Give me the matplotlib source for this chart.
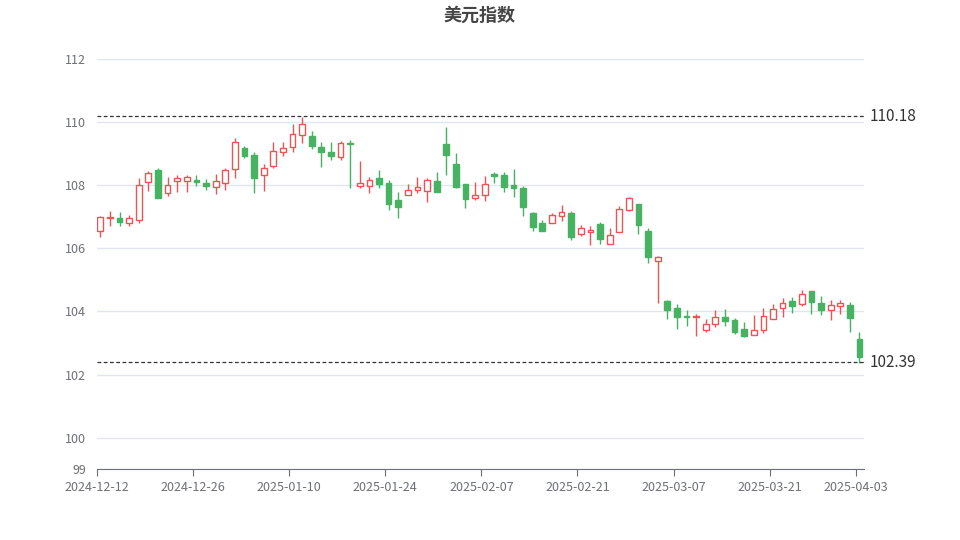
import numpy as np
import pandas as pd
import matplotlib.pyplot as plt

plt.rcParams['font.family'] = ['Noto Sans CJK SC', 'DejaVu Sans']

# 交易日（1月1日无数据）
dates = pd.bdate_range('2024-12-12', '2025-04-03')
dates = dates[dates != pd.Timestamp('2025-01-01')]
labels = [d.strftime('%Y-%m-%d') for d in dates]

opens = [106.56, 106.95, 106.97, 106.80, 106.91, 108.09, 108.48, 107.76, 108.13, 108.13,
         108.17, 108.08, 107.94, 108.07, 108.51, 109.19, 108.96, 108.32, 108.60, 109.05,
         109.21, 109.60, 109.56, 109.22, 109.06, 108.90, 109.34, 107.96, 107.96, 108.22,
         108.08, 107.53, 107.69, 107.86, 107.83, 108.14, 109.29, 108.68, 108.04, 107.59,
         107.69, 108.36, 108.33, 108.01, 107.91, 107.12, 106.79, 106.80, 107.01, 107.12,
         106.45, 106.52, 106.76, 106.15, 106.52, 107.22, 107.39, 106.56, 105.61, 104.32,
         104.11, 103.85, 103.81, 103.42, 103.60, 103.82, 103.72, 103.45, 103.26, 103.42,
         103.76, 104.10, 104.32, 104.24, 104.65, 104.27, 104.05, 104.17, 104.21, 103.14]
closes = [107.00, 106.98, 106.83, 106.95, 108.00, 108.39, 107.58, 108.02, 108.24, 108.25,
          108.10, 107.96, 108.13, 108.48, 109.38, 108.92, 108.22, 108.54, 109.08, 109.17,
          109.63, 109.93, 109.25, 109.06, 108.92, 109.33, 109.30, 108.06, 108.16, 108.03,
          107.41, 107.32, 107.85, 107.94, 108.16, 107.78, 108.96, 107.93, 107.55, 107.69,
          108.03, 108.30, 107.94, 107.91, 107.30, 106.68, 106.55, 107.04, 107.16, 106.35,
          106.63, 106.59, 106.28, 106.41, 107.23, 107.59, 106.73, 105.72, 105.73, 104.05,
          103.81, 103.81, 103.84, 103.60, 103.82, 103.69, 103.35, 103.23, 103.42, 103.85,
          104.08, 104.26, 104.16, 104.54, 104.31, 104.03, 104.21, 104.26, 103.78, 102.56]
highs = [107.03, 107.17, 107.16, 107.05, 108.24, 108.46, 108.55, 108.26, 108.31, 108.31,
         108.31, 108.19, 108.35, 108.55, 109.50, 109.25, 109.05, 108.68, 109.36, 109.36,
         109.94, 110.15, 109.73, 109.36, 109.36, 109.40, 109.44, 108.77, 108.27, 108.49,
         108.17, 107.79, 108.04, 108.27, 108.22, 108.42, 109.85, 109.03, 108.04, 108.09,
         108.30, 108.42, 108.43, 108.51, 107.98, 107.16, 106.88, 107.12, 107.37, 107.18,
         106.74, 106.72, 106.82, 106.64, 107.33, 107.64, 107.41, 106.63, 105.77, 104.37,
         104.22, 104.05, 103.91, 103.76, 104.06, 104.08, 103.79, 103.67, 103.90, 104.12,
         104.22, 104.43, 104.45, 104.67, 104.65, 104.48, 104.36, 104.35, 104.30, 103.36]
lows = [106.37, 106.69, 106.72, 106.69, 106.80, 107.80, 107.58, 107.67, 107.79, 107.79,
        107.97, 107.84, 107.72, 107.85, 108.24, 108.87, 107.75, 107.83, 108.53, 108.91,
        109.06, 109.32, 109.16, 108.59, 108.80, 108.80, 107.90, 107.90, 107.74, 107.91,
        107.20, 106.95, 107.69, 107.74, 107.48, 107.78, 108.32, 107.90, 107.29, 107.52,
        107.51, 108.08, 107.77, 107.61, 107.01, 106.55, 106.55, 106.80, 106.86, 106.26,
        106.38, 106.11, 106.14, 106.15, 106.52, 107.17, 106.45, 105.52, 104.26, 103.75,
        103.45, 103.55, 103.21, 103.34, 103.50, 103.54, 103.29, 103.18, 103.26, 103.32,
        103.76, 103.83, 103.94, 104.17, 103.91, 103.88, 103.74, 103.91, 103.35, 102.37]
ref_high = 110.18
ref_low = 102.39

up_color = '#eb5454'
down_color = '#47b262'

fig = plt.figure(figsize=(9.6, 5.4), dpi=100)
ax = fig.add_axes([0.101, 0.131, 0.799, 0.76])

x = np.arange(len(labels))
o, c, h, l = map(np.array, (opens, closes, highs, lows))
up = c >= o
cols = np.where(up, up_color, down_color)

ax.vlines(x, l, h, colors=cols, linewidth=1, zorder=2)
bottoms = np.minimum(o, c)
heights = np.maximum(np.abs(c - o), 0.02)
ax.bar(x[up], heights[up], bottom=bottoms[up], width=0.6, facecolor='white',
       edgecolor=up_color, linewidth=1, zorder=3)
ax.bar(x[~up], heights[~up], bottom=bottoms[~up], width=0.6, facecolor=down_color,
       edgecolor=down_color, linewidth=1, zorder=3)

for v in (ref_high, ref_low):
    ax.axhline(v, color='#333333', linestyle=(0, (3, 2)), linewidth=0.9, zorder=4)
    ax.text(80.1, v, f'{v:.2f}', va='center', ha='left', fontsize=11, color='#333333')

ax.set_xlim(-0.34, 79.47)
ax.set_ylim(99, 112)
ax.set_yticks([99, 100, 102, 104, 106, 108, 110, 112])
ax.grid(axis='y', color='#e0e6f1', linewidth=1, zorder=0)
ax.set_axisbelow(True)

tick_idx = [0, 10, 20, 30, 40, 50, 60, 70, 79]
ax.set_xticks([i - 0.35 for i in tick_idx])
ax.set_xticklabels([labels[i] for i in tick_idx])

for s in ('top', 'right', 'left'):
    ax.spines[s].set_visible(False)
ax.spines['bottom'].set_color('#6e7079')
ax.tick_params(axis='y', length=0, labelcolor='#6e7079', labelsize=9, pad=8)
ax.tick_params(axis='x', length=5, color='#6e7079', labelcolor='#6e7079', labelsize=9)

fig.suptitle('美元指数', x=0.5, y=0.99, fontsize=13, fontweight='bold', color='#464646')

fig.savefig('out.png', dpi=100)
